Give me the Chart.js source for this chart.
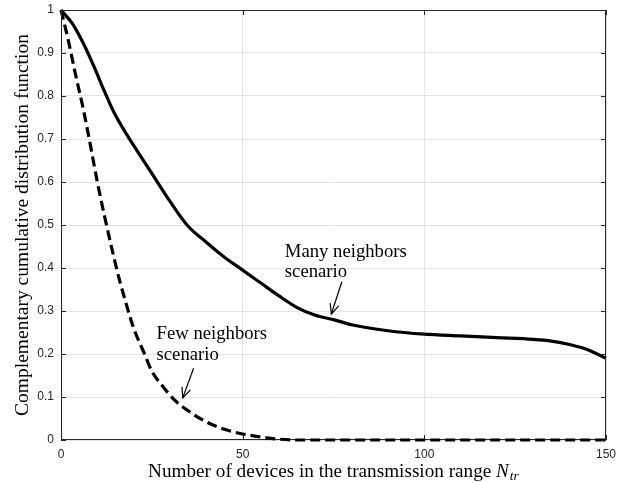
<!DOCTYPE html>
<html>
<head>
<meta charset="utf-8">
<script src="https://cdn.jsdelivr.net/npm/chart.js@4"></script>
<style>
  html, body { margin: 0; padding: 0; background: #fff; }
  #wrap { width: 622px; height: 483px; }
</style>
</head>
<body>
<div id="wrap"><canvas id="ccdf"></canvas></div>
<script>
// values
const manyX = [0, 3, 6, 9, 12, 15, 20, 25, 30, 35, 40, 45, 50, 55, 60, 65, 70, 75, 80, 90, 100, 110, 120, 130, 135, 140, 145, 150];
const manyY = [1.0, 0.97, 0.925, 0.87, 0.81, 0.755, 0.685, 0.62, 0.555, 0.497, 0.46, 0.425, 0.395, 0.365, 0.335, 0.308, 0.29, 0.28, 0.268, 0.254, 0.246, 0.242, 0.238, 0.234, 0.23, 0.222, 0.21, 0.19];

const fewX = [0, 2, 4, 6, 8, 10, 12, 14, 16, 18, 20, 23, 25, 28, 31, 35, 40, 45, 50, 55, 60, 65, 100, 150];
const fewY = [1.0, 0.93, 0.85, 0.775, 0.69, 0.6, 0.52, 0.445, 0.375, 0.315, 0.26, 0.2, 0.16, 0.125, 0.095, 0.068, 0.042, 0.025, 0.014, 0.007, 0.002, 0, 0, 0];

const xTicks = [0, 50, 100, 150];
const yTicks = [0, 0.1, 0.2, 0.3, 0.4, 0.5, 0.6, 0.7, 0.8, 0.9, 1];

// annotation text + arrows, in data units
const notes = [
    { lines: ['Many neighbors', 'scenario'], x: 61.6, y: [0.437, 0.39], from: [77.3, 0.368], to: [74.4, 0.293] },
    { lines: ['Few neighbors', 'scenario'], x: 26.3, y: [0.246, 0.197], from: [36.5, 0.167], to: [33.5, 0.098] }
];

const serif = '"Liberation Serif", "DejaVu Serif", serif';
const sans = '"Liberation Sans", Arial, sans-serif';
const axisColor = '#262626';

const toPoints = (xs, ys) => xs.map((x, i) => ({ x: x, y: ys[i] }));

// MATLAB-like box with inward ticks, x label with subscript, text arrows
const boxPlugin = {
    id: 'box',
    afterDatasetsDraw(chart) {
        const ctx = chart.ctx;
        const a = chart.chartArea;
        const xs = chart.scales.x, ys = chart.scales.y;
        ctx.save();
        ctx.strokeStyle = axisColor;
        ctx.lineWidth = 1;
        ctx.beginPath();
        ctx.moveTo(a.left + 0.5, a.bottom - 0.5);
        ctx.lineTo(a.left + 0.5, a.top + 0.5);
        ctx.lineTo(a.right - 0.5, a.top + 0.5);
        ctx.lineTo(a.right - 0.5, a.bottom - 0.5);
        xTicks.forEach(v => {
            const px = Math.round(xs.getPixelForValue(v)) + 0.5;
            ctx.moveTo(px, a.top); ctx.lineTo(px, a.top + 5);
        });
        yTicks.forEach(v => {
            const py = Math.round(ys.getPixelForValue(v)) + 0.5;
            ctx.moveTo(a.left, py); ctx.lineTo(a.left + 5, py);
            ctx.moveTo(a.right, py); ctx.lineTo(a.right - 5, py);
        });
        ctx.stroke();

        // x axis label: "Number of devices in the transmission range N_tr"
        ctx.fillStyle = '#000';
        ctx.textBaseline = 'alphabetic';
        ctx.textAlign = 'left';
        const main = 'Number of devices in the transmission range ';
        const fMain = '19.2px ' + serif, fN = 'italic 19.2px ' + serif, fSub = 'italic 13.5px ' + serif;
        ctx.font = fMain; const w1 = ctx.measureText(main).width;
        ctx.font = fN; const w2 = ctx.measureText('N').width;
        ctx.font = fSub; const w3 = ctx.measureText('tr').width;
        const cx = (a.left + a.right) / 2;
        const lx = cx - (w1 + w2 + w3 + 1) / 2;
        const base = 477;
        ctx.font = fMain; ctx.fillText(main, lx, base);
        ctx.font = fN; ctx.fillText('N', lx + w1, base);
        ctx.font = fSub; ctx.fillText('tr', lx + w1 + w2 + 1, base + 3);

        ctx.strokeStyle = '#000';
        ctx.font = '18.7px ' + serif;
        ctx.textBaseline = 'middle';
        notes.forEach(n => {
            const tx = xs.getPixelForValue(n.x);
            n.lines.forEach((t, i) => ctx.fillText(t, tx, ys.getPixelForValue(n.y[i])));
            const x0 = xs.getPixelForValue(n.from[0]), y0 = ys.getPixelForValue(n.from[1]);
            const x1 = xs.getPixelForValue(n.to[0]), y1 = ys.getPixelForValue(n.to[1]);
            ctx.lineWidth = 1.2;
            ctx.beginPath();
            ctx.moveTo(x0, y0); ctx.lineTo(x1, y1);
            ctx.stroke();
            const ang = Math.atan2(y1 - y0, x1 - x0);
            const len = 11, spread = 0.42;
            ctx.beginPath();
            ctx.moveTo(x1 - len * Math.cos(ang - spread), y1 - len * Math.sin(ang - spread));
            ctx.lineTo(x1, y1);
            ctx.lineTo(x1 - len * Math.cos(ang + spread), y1 - len * Math.sin(ang + spread));
            ctx.stroke();
        });
        ctx.restore();
    }
};

// bottom axis line sits under the curves, as in the original
const axisUnderPlugin = {
    id: 'axisUnder',
    beforeDatasetsDraw(chart) {
        const ctx = chart.ctx;
        const a = chart.chartArea;
        const xs = chart.scales.x;
        ctx.save();
        ctx.strokeStyle = axisColor;
        ctx.lineWidth = 1;
        ctx.beginPath();
        ctx.moveTo(a.left, a.bottom - 0.5);
        ctx.lineTo(a.right, a.bottom - 0.5);
        xTicks.forEach(v => {
            const px = Math.round(xs.getPixelForValue(v)) + 0.5;
            ctx.moveTo(px, a.bottom); ctx.lineTo(px, a.bottom - 5);
        });
        ctx.stroke();
        ctx.restore();
    }
};

new Chart(document.getElementById('ccdf'), {
    type: 'line',
    data: {
        datasets: [
            {
                label: 'Many neighbors scenario',
                data: toPoints(manyX, manyY),
                borderColor: '#000',
                borderWidth: 3.2,
                pointRadius: 0,
                clip: 3,
                cubicInterpolationMode: 'monotone'
            },
            {
                label: 'Few neighbors scenario',
                data: toPoints(fewX, fewY),
                borderColor: '#000',
                borderWidth: 3.2,
                borderDash: [10, 5],
                pointRadius: 0,
                clip: 3,
                cubicInterpolationMode: 'monotone'
            }
        ]
    },
    options: {
        responsive: true,
        maintainAspectRatio: false,
        animation: false,
        layout: { padding: { top: 10, right: 16, left: 0, bottom: 0 } },
        plugins: {
            legend: { display: false },
            tooltip: { enabled: false }
        },
        scales: {
            x: {
                type: 'linear',
                min: 0,
                max: 150,
                afterBuildTicks: s => { s.ticks = xTicks.map(v => ({ value: v })); },
                afterFit: s => { s.height = 43; s.paddingLeft = 0; s.paddingRight = 0; },
                grid: { color: '#e3e3e3', drawTicks: false },
                border: { display: false },
                ticks: {
                    color: axisColor, font: { family: sans, size: 12 }, padding: 7, maxRotation: 0,
                    callback: v => String(v)
                },
                title: { display: false }
            },
            y: {
                type: 'linear',
                min: 0,
                max: 1,
                afterBuildTicks: s => { s.ticks = yTicks.map(v => ({ value: v })); },
                afterFit: s => { s.width = 61; s.paddingTop = 0; s.paddingBottom = 0; },
                grid: { color: '#e3e3e3', drawTicks: false },
                border: { display: false },
                ticks: {
                    color: axisColor, font: { family: sans, size: 12 }, padding: 7,
                    callback: v => String(v)
                },
                title: {
                    display: true,
                    text: 'Complementary cumulative distribution function',
                    color: '#000',
                    font: { family: serif, size: 19.5 },
                    padding: { top: 11, bottom: 0 }
                }
            }
        }
    },
    plugins: [axisUnderPlugin, boxPlugin]
});
</script>
</body>
</html>
